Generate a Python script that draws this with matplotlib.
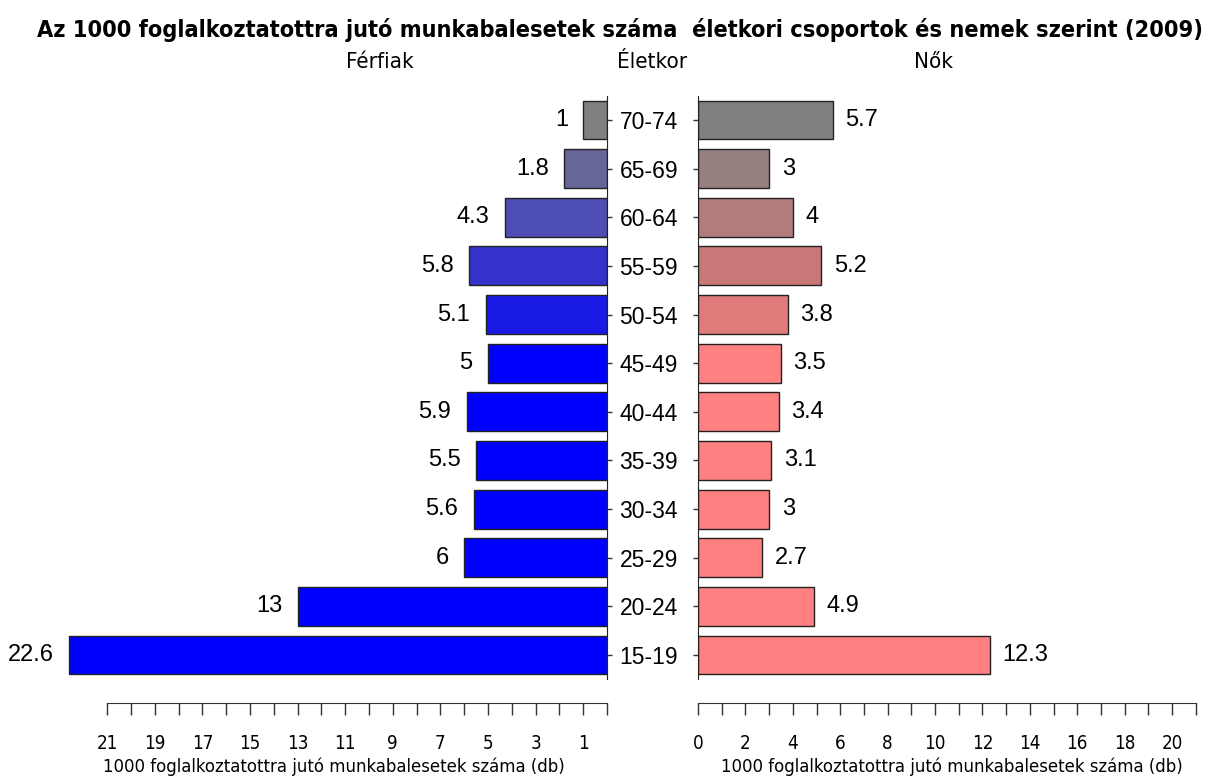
import numpy as np
import matplotlib.pyplot as plt
from matplotlib.ticker import FixedLocator, NullFormatter

# Age groups from the youngest (bottom) to the oldest (top)
age_groups = ["15-19", "20-24", "25-29", "30-34", "35-39", "40-44",
              "45-49", "50-54", "55-59", "60-64", "65-69", "70-74"]
men = [22.6, 13, 6, 5.6, 5.5, 5.9, 5, 5.1, 5.8, 4.3, 1.8, 1]
women = [12.3, 4.9, 2.7, 3, 3.1, 3.4, 3.5, 3.8, 5.2, 4, 3, 5.7]

men_colors = ["#0000ff"] * 7 + ["#1a1ae6", "#3333cc", "#4d4db3", "#666699", "#808080"]
women_colors = ["#ff8080"] * 7 + ["#e07b7b", "#c97878", "#b07c7c", "#988080", "#808080"]

plain = ["Liberation Sans", "DejaVu Sans"]
narrow = dict(family=["DejaVu Sans"], fontstretch="condensed")
axis_label = "1000 foglalkoztatottra jutó munkabalesetek száma (db)"

W, H = 1209, 778
fig = plt.figure(figsize=(W / 100, H / 100), dpi=100)

y = np.arange(len(age_groups))
top_px, bottom_px = 95.7, 679.3

# left panel: men, growing to the left
ax_l = fig.add_axes([60 / W, 1 - bottom_px / H, 547 / W, (bottom_px - top_px) / H])
ax_l.barh(y, men, height=0.8, color=men_colors, edgecolor="#222222", linewidth=1)
ax_l.set_xlim(547 / 23.8, 0)
ax_l.set_ylim(-0.5, len(age_groups) - 0.5)
for yi, v in zip(y, men):
    ax_l.annotate(f"{v:g}", (v, yi), xytext=(-11, 0), textcoords="offset points",
                  ha="right", va="center", fontsize=17, family=plain)

# right panel: women
ax_r = fig.add_axes([698 / W, 1 - bottom_px / H, 507 / W, (bottom_px - top_px) / H])
ax_r.barh(y, women, height=0.8, color=women_colors, edgecolor="#222222", linewidth=1)
ax_r.set_xlim(0, 507 / 23.7)
ax_r.set_ylim(-0.5, len(age_groups) - 0.5)
for yi, v in zip(y, women):
    ax_r.annotate(f"{v:g}", (v, yi), xytext=(9, 0), textcoords="offset points",
                  ha="left", va="center", fontsize=17, family=plain)

for ax in (ax_l, ax_r):
    ax.spines["top"].set_visible(False)
    ax.spines["bottom"].set_position(("outward", 17))
    ax.spines["bottom"].set_bounds(0, 21)
    ax.spines["bottom"].set_color("#333333")
    ax.set_yticks(y)
    ax.tick_params(axis="x", which="both", direction="out", length=8.5,
                   width=1, color="#333333", pad=14)
    ax.tick_params(axis="y", length=3.5, width=1, color="#333333")
    ax.xaxis.set_minor_locator(FixedLocator(range(0, 22)))
    ax.xaxis.set_minor_formatter(NullFormatter())
    ax.set_xlabel(axis_label, fontsize=13.2, labelpad=3, **narrow)

ax_l.spines["left"].set_visible(False)
ax_l.spines["right"].set_color("#222222")
ax_l.yaxis.tick_right()
ax_l.set_yticklabels([])
ax_l.set_xticks(range(1, 22, 2))

ax_r.spines["right"].set_visible(False)
ax_r.spines["left"].set_color("#222222")
ax_r.set_xticks(range(0, 21, 2))
ax_r.set_yticklabels(age_groups, fontsize=16.5, family=plain)
for lab in ax_r.get_yticklabels():
    lab.set_horizontalalignment("center")
ax_r.tick_params(axis="y", pad=32)

for ax in (ax_l, ax_r):
    for lab in ax.get_xticklabels():
        lab.set_fontsize(13.5)
        lab.set_family(narrow["family"])
        lab.set_fontstretch("condensed")

fig.text(620 / W, 1 - 30 / H,
         "Az 1000 foglalkoztatottra jutó munkabalesetek száma  életkori csoportok és nemek szerint (2009)",
         ha="center", va="center", fontsize=16.8, fontweight="bold", **narrow)
fig.text(380 / W, 1 - 62 / H, "Férfiak", ha="center", va="center", fontsize=16, **narrow)
fig.text(652 / W, 1 - 62 / H, "Életkor", ha="center", va="center", fontsize=16, **narrow)
fig.text(933 / W, 1 - 62 / H, "Nők", ha="center", va="center", fontsize=16, **narrow)

fig.savefig("out.png", dpi=100)
